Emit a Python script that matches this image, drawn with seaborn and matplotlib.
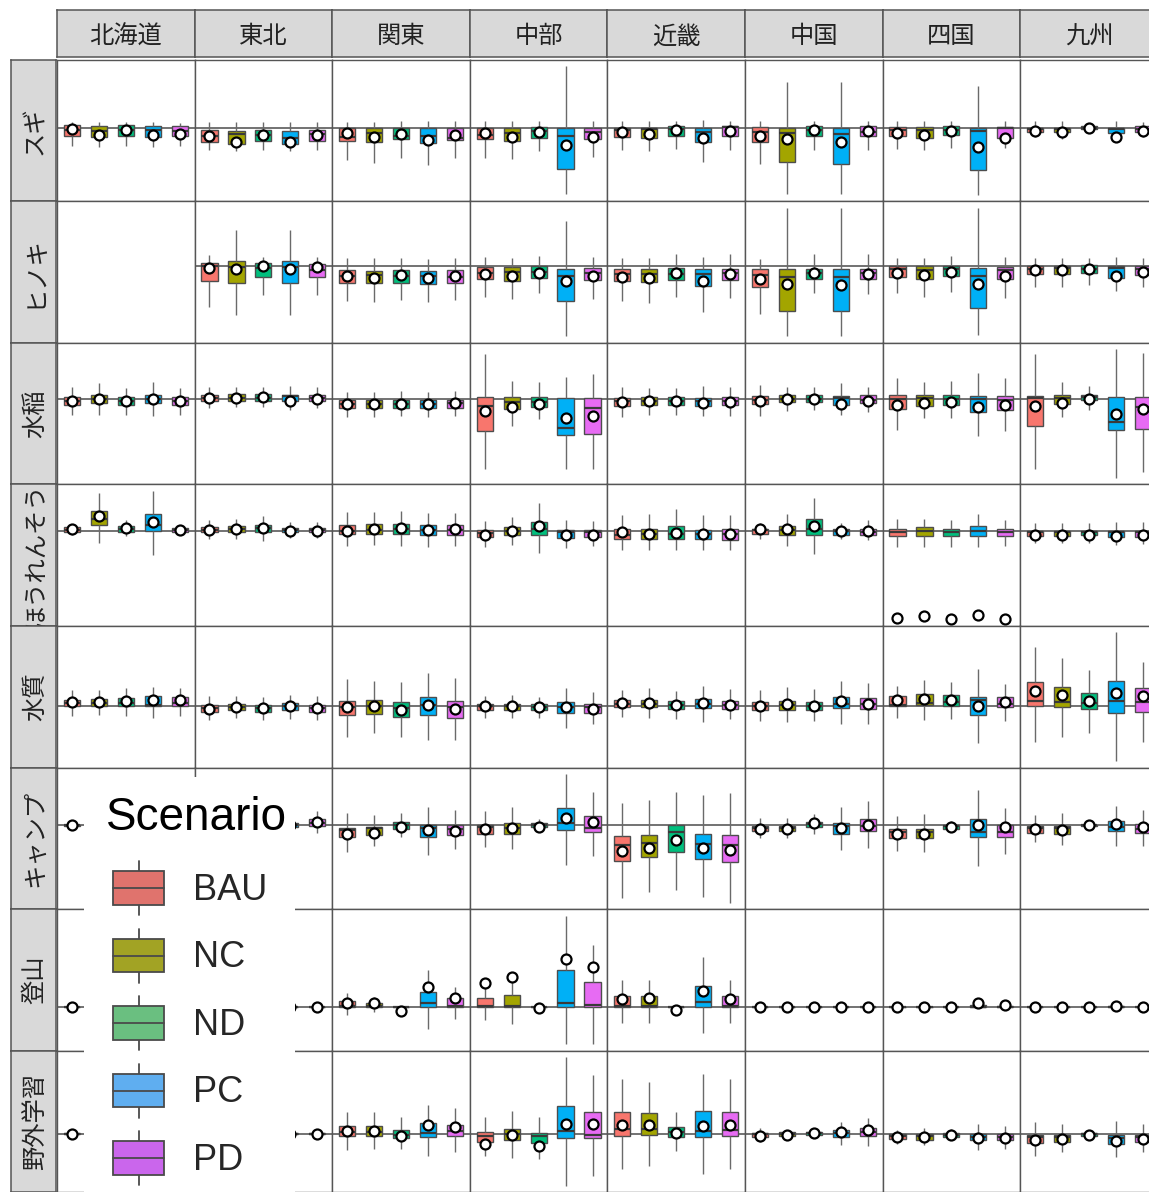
import matplotlib
matplotlib.use("Agg")
import numpy as np
import pandas as pd
import matplotlib.pyplot as plt
import seaborn as sns
from matplotlib.patches import Rectangle, Patch
from matplotlib.lines import Line2D
from matplotlib.legend_handler import HandlerBase
from matplotlib.font_manager import FontProperties

# ---------------- data ----------------
REGIONS = ["北海道", "東北", "関東", "中部", "近畿", "中国", "四国", "九州"]
INDICATORS = ["スギ", "ヒノキ", "水稲", "ほうれんそう", "水質", "キャンプ", "登山", "野外学習"]
SCENARIOS = ["BAU", "NC", "ND", "PC", "PD"]
BOX_COLORS = ["#F8766D", "#A3A500", "#00BF7D", "#00B0F6", "#E76BF3"]
KEY_COLORS = ["#E0736D", "#A2A324", "#6ABF80", "#5FAEF0", "#CA66EC"]

# per region: 5 scenarios x (lower whisker, Q1, median, Q3, upper whisker, mean)
SUGI = [
    [(-18.3, -8.3, -2, 2.7, 6, -1.6), (-19, -9, -3, 1.7, 6, -7.3), (-18.3, -8, -2, 2.4, 6, -2.3),
     (-19, -9.3, -2.6, 1.7, 6, -7.3), (-18.3, -8.3, -3, 1.7, 5, -6.6)],
    [(-22.3, -14, -8, -2.3, 6, -8.3), (-23, -16.3, -6.6, -3, 6, -14), (-22.3, -13.3, -7, -2.3, 6, -7.3),
     (-23, -16.3, -10.6, -3, 6, -14), (-22.3, -13.3, -6.6, -2.3, 6, -7.3)],
    [(-32.3, -13.3, -9.6, 0, 6, -5.6), (-35, -14.6, -5.6, 0, 6, -9.6), (-30, -11.6, -8, 0, 6.7, -6.6),
     (-38, -15.6, -8.3, 0, 6.7, -12.3), (-30, -12.3, -10, 0, 6.7, -7.3)],
    [(-30, -11.6, -7.3, 0, 6.7, -5.6), (-31.6, -13, -5.6, 0, 6.7, -9.6), (-23.3, -10.6, -3.5, 0.3, 6.7, -4),
     (-66.3, -41.3, -8, 0, 62, -17.3), (-29.6, -11.6, -4.3, 0, 6.7, -9)],
    [(-22.3, -9, -2, 0, 6.7, -4.6), (-23.3, -10, -1.6, 0, 6.7, -6.6), (-21.3, -8.3, -1, 1.7, 6.7, -2.3),
     (-34.6, -14, -4, 0, 7.7, -10.6), (-22.3, -8.3, 0.3, 1.7, 6.7, -3.3)],
    [(-36.6, -14, -4, 0.3, 6.7, -8), (-66.3, -34, -5.6, 0, 46, -11.6), (-22.3, -8.3, -2, 1.7, 6.7, -2.3),
     (-66.3, -36.6, -6.6, 0, 46, -14), (-22.3, -8.3, -4, 1.7, 6.7, -3.3)],
    [(-21.6, -8.3, -2, 0.3, 6.7, -5), (-22.3, -10, -2.3, 0.3, 6.7, -7.3), (-20.6, -7.3, -2, 1.7, 6.7, -3.3),
     (-67.3, -42.3, -3, 0, 41.7, -19), (-20.6, -10, 0, 1, 6.7, -10)],
    [(-9, -4, -1, 0, 6.7, -3), (-11.3, -4.6, -1, 0, 6.7, -4), (-5, -1.6, 0, 1.7, 5, -0.6),
     (-14, -5.6, -1.3, 0, 6.7, -9.6), (-9, -4, -1, 1.7, 6, -3.3)],
]

HINOKI = [
    None,
    [(-41.6, -15, 0, 3.4, 11.4, -2), (-49.3, -17, -1, 4.7, 36.4, -2.6), (-29.3, -11, -2, 3, 9, -0.3),
     (-49.3, -17, -1, 4.7, 36.4, -2.6), (-29.3, -11, -4.3, 2.4, 9, -1)],
    [(-35, -17.6, -10, -4.3, 8, -10.3), (-36, -17.6, -9.3, -5, 8, -12), (-34.3, -17, -10, -4.3, 8, -9.3),
     (-36, -18.3, -10.3, -5, 7.4, -12), (-34.3, -17, -11, -4.3, 8, -10.3)],
    [(-31.6, -13.6, -7, -1, 9, -8.6), (-33.6, -15, -6, -1, 8, -10), (-27.6, -12, -6, -0.3, 9.7, -7),
     (-70.3, -35, -10, -2.6, 45, -15.3), (-33.3, -14.3, -7.6, -1.6, 9, -10)],
    [(-35, -15.3, -8, -2.6, 8.4, -11), (-37.6, -16.6, -8.3, -2.6, 8.4, -12.6), (-31.6, -14.3, -8, -2, 11.7, -7.6),
     (-47, -20.3, -8.3, -2.6, 9, -15), (-32.6, -14.3, -7.6, -2.6, 11.7, -8.6)],
    [(-48.6, -21.6, -9.3, -2.6, 7.4, -13.6), (-71, -45, -11, -2.6, 59, -18.6), (-27.6, -13.3, -7, -2.6, 11.7, -7.6),
     (-71, -45, -11, -3.3, 59, -19.3), (-28.3, -13.3, -7.5, -2.6, 11.7, -8.3)],
    [(-27.6, -11.6, -2.6, -0.3, 8.4, -7), (-31.6, -13.6, -3.6, -0.3, 8.4, -9.3), (-26, -10.3, -3, 0, 9.7, -6),
     (-70, -42, -10.3, -2, 58.4, -18.6), (-32, -13.6, -3.6, -1, 9, -10.3)],
    [(-21, -8.3, -2.6, 0, 8.4, -3.6), (-21.6, -8.3, -2, 0, 8.4, -4.3), (-19.3, -7.6, -2.6, 0.7, 8, -3.3),
     (-25.3, -12, -2, 0, 9, -10), (-21, -9.3, -3, 0, 8.4, -6)],
]

SUITO = [
    [(-15.7, -5.7, -2, 2, 12.6, -1.4), (-15.7, -4, 0, 4.6, 17, 0.3), (-15.7, -5.7, -2, 2, 12, -2),
     (-16.4, -4, 0, 4.6, 17.6, 0.3), (-15.7, -5.7, -2, 2, 12, -2)],
    [(-8.7, -1.4, 1, 4.6, 12.6, 1), (-8, -1.4, 1.5, 5, 12.6, 1.6), (-8, -1.4, 1.5, 5.3, 12.6, 2),
     (-10.7, -1.4, 3, 4.6, 13.6, -2), (-8.7, -1.4, 1.5, 4.6, 12.6, 0.3)],
    [(-17.4, -8.7, -4.7, -0.7, 8, -4.7), (-17.4, -8.7, -4.4, -0.7, 8, -4.4), (-17, -8.4, -4.4, -0.7, 8.4, -4.4),
     (-17.4, -8.7, -4.7, -0.7, 8, -4.7), (-17, -8.4, -4, -0.7, 8.4, -4)],
    [(-69.7, -31.4, -6.4, 2, 46, -11.4), (-26.4, -9.7, -3, 2, 18.6, -8), (-19.7, -8, -3, 2.6, 17.6, -4.7),
     (-69.7, -35.7, -29, 1, 23, -19), (-69.7, -34.7, -8.7, 1.3, 25.3, -16.4)],
    [(-17.4, -6.4, -2, 1.3, 13, -2.4), (-15.4, -5.4, -1.4, 2, 12, -1.4), (-15.4, -5.4, -1.4, 2, 12, -1.4),
     (-16.4, -7, -1.4, 1.3, 13.6, -4), (-16.4, -5.7, -2, 2, 13, -2.4)],
    [(-16.7, -5, -1, 3.3, 15, -1.4), (-11.7, -2.7, 0.5, 4.3, 12.7, 0.7), (-11, -2.7, 0.5, 4, 12.7, 0.7),
     (-16, -6, 1.7, 3.3, 16.7, -5), (-12.3, -3.3, -0.5, 4, 12.7, -1.7)],
    [(-30.7, -10, 0, 4.3, 21.7, -5.7), (-19, -6.7, 1, 4.3, 17.7, -3.3), (-19, -6, 0.7, 4.3, 18.3, -2.3),
     (-36.7, -12.7, 0, 3.3, 26.7, -7.3), (-31.7, -10.7, -0.7, 3.3, 21.7, -6)],
    [(-70, -26.7, 1, 3.3, 46, -6.7), (-17.7, -5, 1, 4, 17.3, -4), (-11, -1, 2, 4.3, 13.3, 0),
     (-79, -30.7, -22.7, 2.3, 50.7, -14.3), (-73.3, -29.3, -8, 2.7, 47.3, -10)],
]

HORENSO = [
    [(-4, -1.3, 1, 3.3, 6, 1.7), (-13, 5.3, 12, 19.3, 37.7, 14.3), (-5.7, -1.3, 2, 4.3, 11, 2.7),
     (-25, -0.7, 5.3, 16.7, 40.3, 8.3), (-3, -1.3, 1, 2.3, 4, 1)],
    [(-9, -1.7, 1, 3.7, 11, 1), (-9, -1.3, 1.5, 4.3, 11.7, 2), (-10.7, -1.3, 2.5, 6, 14.3, 2.7),
     (-7.3, -1.7, 0.5, 2.7, 8.3, 0), (-7.3, -1.7, 0.5, 2.7, 8.3, 0)],
    [(-15.7, -3, 0, 6, 18.3, -0.7), (-15, -3, 1, 6.7, 18.3, 1.7), (-15.7, -3, 2, 7, 19.3, 2.7),
     (-16.3, -4, 0.5, 5.3, 17.7, 1), (-15.7, -4, 1, 5.3, 17.7, 1.7)],
    [(-16.3, -6.7, -2, 0.3, 9.3, -4), (-15, -4.7, 0, 3.7, 13.7, -0.7), (-23, -4, 2, 8.7, 27.7, 4.3),
     (-18, -7.3, -1, 0.3, 10.3, -4), (-15.7, -6.3, -1, 0.3, 9.3, -4)],
    [(-20, -8.3, -5, 1.7, 15.3, -1.7), (-19.7, -8.3, -3, 1.7, 17, -3), (-20, -8.3, -3, 5, 22, -2.3),
     (-19.7, -9, -3, 1, 15.3, -3.3), (-20, -9.7, -3.5, 1.7, 15.3, -3.3)],
    [(-9, -3, 0.5, 2, 7.7, 1.7), (-15.7, -4, 1, 5, 17, 2), (-23.3, -4, 2, 11.7, 32.7, 5),
     (-9, -4, -0.5, 1.7, 7.7, -0.7), (-10, -4, -1, 1.7, 10.3, -0.7)],
    [(-16.3, -5.7, -1.3, 2, 11.7, -89), (-16.3, -5.7, -0.7, 3.3, 11.7, -86.3), (-16.3, -5.7, -1.3, 2, 10.3, -89.7),
     (-16.3, -5.7, 0, 4.3, 17, -85.7), (-15.7, -5.7, -1.7, 1.7, 10.3, -90)],
    [(-12.3, -5.7, -1, 0, 7.7, -4), (-12.3, -5.7, -1, 0, 7.7, -4), (-12.3, -5, -1, 0, 7.7, -4),
     (-15, -6.7, -1.5, 0, 8.3, -5.7), (-13.3, -6.3, -1.5, 0, 8.3, -5)],
]

SUISHITSU = [
    [(-10, 0, 3, 6.7, 16, 4.4), (-9.3, 0, 3, 7.7, 16.7, 4.4), (-10, 0, 3, 8.4, 18.4, 5),
     (-11.6, 0, 1, 10, 20, 6.7), (-10, 0, 3, 9, 19, 6)],
    [(-14.3, -5.6, -2, 1.7, 10, -2.3), (-12.3, -4.3, -1, 2.7, 10, -1), (-14.3, -6, -2, 1.7, 9, -1.6),
     (-13.3, -4.3, 0, 3.4, 11.7, 0), (-14.3, -5.6, -1.5, 1.7, 10.7, -1.6)],
    [(-31, -9, -1, 5.7, 27.4, -0.6), (-27.3, -7.6, 0, 6, 25.7, 0.7), (-31.6, -11, -2, 4, 25, -3.3),
     (-34.3, -9, 1, 9.4, 34, 1.7), (-34.3, -11.6, -1, 5, 28.4, -2.6)],
    [(-12.3, -4.3, 0, 2.7, 10, 0), (-11.6, -4.3, 0, 2.7, 11.7, 0), (-12.3, -4.3, -0.5, 2.4, 9, -1),
     (-21.6, -6.6, -1, 4, 19, -1), (-18.3, -7.3, -1, 2.7, 14, -2.3)],
    [(-11, -0.6, 2.5, 6, 16, 3.4), (-12.3, -0.6, 2.5, 6.7, 18.4, 3.4), (-13.3, -2.3, 1.5, 5, 15.7, 1.7),
     (-15.6, -1.6, 2, 7.4, 20.7, 3.4), (-13.3, -2.3, 1.5, 5.7, 17.4, 1.7)],
    [(-15, -4, 0, 4.4, 16, 0.7), (-15.6, -3.3, 1, 5.7, 20, 2.4), (-14.6, -4, 0, 4.4, 17.4, 0.7),
     (-18.3, -1.6, 2.5, 9.4, 26, 5), (-18.3, -2.6, 2, 8.4, 23.4, 2.7)],
    [(-11.6, 0.7, 1.5, 10, 21, 6), (-14, 1, 3, 12.4, 26.7, 7.7), (-12.6, 0.7, 4, 11, 24.4, 6),
     (-37.3, -9.3, 6, 9.4, 37.4, 0.7), (-15, -1, 2, 9, 22.4, 4)],
    [(-36.6, 0, 5, 24.4, 60, 15.7), (-31.6, -1, 4.4, 19.4, 49, 11), (-27.3, -2.6, 3, 13.4, 36.7, 5.7),
     (-55.6, -6.6, 5.7, 26, 75, 13.4), (-36.6, -5.6, 4, 19, 45, 10.7)],
]

CAMP = [
    [(-1, -0.5, 0, 0.5, 1, 0), (-1, -0.5, 0, 0.5, 1, 0), (-1, -0.5, 0, 0.5, 1, 0),
     (-1, -0.5, 0, 0.5, 1, 0), (-1, -0.5, 0, 0.5, 1, 0)],
    [(-6, -1.5, 0, 1.5, 8, 0.5), (-6, -1.5, 0, 1.5, 8, 0.5), (-6, -1.5, 0, 1.5, 8, 0.5),
     (-6, -1.6, 0, 1.7, 8, 0.5), (-8.3, -1, 2, 5.7, 14, 3)],
    [(-27.6, -12.6, -5.3, -3.3, 12.4, -9.3), (-21.6, -10.3, -3.3, -1.6, 10, -7.6), (-12.6, -3.6, 0.5, 3.4, 11.7, -1.6),
     (-30.3, -12, -3.3, 0, 18.4, -5), (-24.3, -10, -4.3, 0, 15, -6)],
    [(-22, -8.6, -2, 0, 14, -4.3), (-24.3, -8.6, -2.6, 2.4, 18, -2.6), (-6, -2, 0, 1.7, 6.4, -2),
     (-40, -5.3, 2.4, 17.4, 51.7, 7.4), (-31.6, -7, -2.6, 9, 33, 3)],
    [(-73.6, -36, -20.3, -11.6, 22.4, -26), (-67.6, -32.6, -18.6, -10, 25, -23.6), (-66, -27, -6.6, -0.3, 33.4, -15),
     (-72.6, -34.3, -19.3, -8.6, 30, -23.3), (-78.6, -37, -20.3, -10, 32.4, -25)],
    [(-13.6, -6, -3, -1, 7.4, -3.6), (-13.6, -6, -3, -1, 7.4, -3.6), (-9.3, -2, 1, 3.4, 10.7, 1.7),
     (-25.3, -9.3, -1, 1.7, 18, -3.3), (-23.6, -6, -1, 6.4, 24, 0)],
    [(-26.6, -13.6, -7, -3.6, 9, -8.6), (-27.6, -13.6, -7, -3.6, 10.7, -8.6), (-7, -3.6, -1, 0, 4, -1.6),
     (-41, -12.6, -6.6, 6.4, 35, 0), (-29.3, -12, -6.6, 0, 17.4, -2)],
    [(-17.6, -7.6, -3.5, -1, 10, -4.3), (-20.3, -8.6, -3.5, -1, 11.7, -5.3), (-1, -0.7, 0, 0.3, 1, -0.3),
     (-21, -6, -2.5, 4, 19.7, 0.7), (-21, -7.6, -4, 1.4, 15.7, -1.6)],
]

TOZAN = [
    [(-0.5, -0.2, 0, 0.2, 0.5, 0), (-0.5, -0.2, 0, 0.2, 0.5, 0), (-0.5, -0.2, 0, 0.2, 0.5, 0),
     (-0.5, -0.2, 0, 0.2, 0.5, 0), (-0.5, -0.2, 0, 0.2, 0.5, 0)],
    [(-0.5, -0.2, 0, 0.2, 0.5, 0), (-0.5, -0.2, 0, 0.2, 0.5, 0), (-0.5, -0.2, 0, 0.2, 0.5, 0),
     (-0.5, -0.2, 0, 0.2, 0.5, 0), (-0.5, -0.2, 0, 0.2, 0.5, -0.3)],
    [(-8.6, 0.3, 0.5, 6, 14.4, 4.4), (-5.3, 0.3, 0.5, 3.7, 10.4, 3.7), (-1, -0.5, 0, 0.3, 0.5, -4),
     (-22, 0.3, 3.7, 15.4, 37.7, 20.4), (-12, 0.3, 1, 8.7, 20.4, 9.4)],
    [(-13, 0.3, 1, 9.4, 20, 24.4), (-17.3, 0.3, 1, 12, 25, 30.4), (-0.5, -0.3, 0, 0.3, 0.5, -1.3),
     (-38, 0.3, 3.7, 38, 93, 48.7), (-37.3, 0.3, 2, 25.4, 62.7, 41)],
    [(-16.3, 0.3, 1, 11, 27, 8), (-16.3, 0.3, 1, 11, 27, 9.4), (-0.5, -0.3, 0, 0.3, 0.5, -3),
     (-27, 0.3, 4.7, 21, 50.4, 16), (-16.3, 0.3, 1, 11, 27, 8)],
    [(-0.5, -0.2, 0, 0.2, 0.5, 0), (-0.5, -0.2, 0, 0.2, 0.5, 0), (-0.5, -0.2, 0, 0.2, 0.5, 0),
     (-0.5, -0.2, 0, 0.2, 0.5, 0), (-0.5, -0.2, 0, 0.2, 0.5, 0)],
    [(-0.5, -0.2, 0, 0.2, 0.5, 0), (-0.5, -0.2, 0, 0.2, 0.5, 0), (-0.5, -0.2, 0, 0.2, 0.5, 0),
     (-0.5, 0, 0.3, 2, 2.5, 4.4), (-0.5, 0, 0.2, 1, 1.5, 2)],
    [(-0.5, -0.2, 0, 0.2, 0.5, 0), (-0.5, -0.2, 0, 0.2, 0.5, 0), (-0.5, -0.2, 0, 0.2, 0.5, 0),
     (-0.5, 0, 0.2, 1, 1.5, 1.4), (-0.5, -0.2, 0, 0.2, 0.5, 0)],
]

YAGAI = [
    [(-0.5, -0.2, 0, 0.2, 0.5, 0), (-0.5, -0.2, 0, 0.2, 0.5, 0), (-0.5, -0.2, 0, 0.2, 0.5, 0),
     (-0.5, -0.2, 0, 0.2, 0.5, 0), (-0.5, -0.2, 0, 0.2, 0.5, 0)],
    [(-0.5, -0.2, 0, 0.2, 0.5, 0), (-0.5, -0.2, 0, 0.2, 0.5, 0), (-0.5, -0.2, 0, 0.2, 0.5, 0),
     (-0.5, -0.2, 0, 0.2, 0.5, 0), (-0.5, -0.2, 0, 0.2, 0.5, 0)],
    [(-16.3, -2.6, 2, 7.4, 21.4, 3), (-15.3, -2, 2, 8, 21.4, 2.4), (-16, -4.6, -1, 4, 16.4, -2),
     (-22.6, -3, 0.4, 10.4, 29, 8.7), (-18.6, -2, 3, 9, 25.4, 6.4)],
    [(-23, -8.6, -2, 1.4, 16.4, -10.3), (-24.3, -7, -0.5, 4.7, 22.4, -1), (-25.3, -9.6, -2, 0.7, 16.4, -13),
     (-53, -4.3, 2.4, 28, 77.4, 9.7), (-42.6, -4.6, -1, 21.4, 59, 9.7)],
    [(-36.3, -2, 4.7, 21.4, 55.7, 8.7), (-33, -1.3, 4.7, 20.4, 52.4, 9), (-17.6, -3, 2, 7, 21.4, 0.7),
     (-41, -3, 3, 22.4, 60.7, 8), (-36.3, -2, 4, 21.4, 55.7, 8.7)],
    [(-8.6, -3, -0.5, 0.7, 5.4, -2), (-4, -2, 0, 1.4, 3, -1), (-3, -1.3, 0.5, 2, 3, 0.4),
     (-12, -3, 0.5, 4, 11.4, 1.4), (-13, -2, 2, 5.7, 15.7, 4)],
    [(-10.3, -6, -2, -0.3, 4, -3.6), (-12, -7, -2.5, -0.3, 5.4, -3.6), (-7, -3, -1, 0.7, 5, -1.3),
     (-17, -7, -3.5, -0.3, 9.7, -4.3), (-15.3, -6.3, -3.5, -0.3, 7.4, -4.3)],
    [(-22.6, -9.6, -3.5, -1, 12, -7), (-18.6, -8.6, -3.5, -1, 9.7, -6), (-6, -2, -0.5, 0.7, 4, -1.6),
     (-23.6, -11, -5, -1, 13, -7.6), (-18.6, -8.6, -3.5, -1, 9.7, -6)],
]

ROW_DATA = [SUGI, HINOKI, SUITO, HORENSO, SUISHITSU, CAMP, TOZAN, YAGAI]

# ---------------- tidy frames ----------------
box_rec, mean_rec = [], []
for ind, rows in zip(INDICATORS, ROW_DATA):
    for reg, stats in zip(REGIONS, rows):
        if stats is None:
            continue
        for sc, s in zip(SCENARIOS, stats):
            lo, q1, md, q3, hi, mn = s
            for v in (lo, q1, md, q3, hi):
                box_rec.append((ind, reg, sc, v))
            mean_rec.append((ind, reg, sc, mn))
box_df = pd.DataFrame(box_rec, columns=["indicator", "region", "Scenario", "value"])
mean_df = pd.DataFrame(mean_rec, columns=["indicator", "region", "Scenario", "mean"])

ylims = {}
for ind in INDICATORS:
    vals = np.concatenate([box_df.loc[box_df.indicator == ind, "value"].values,
                           mean_df.loc[mean_df.indicator == ind, "mean"].values])
    lo, hi = vals.min(), vals.max()
    pad = 0.05 * (hi - lo)
    ylims[ind] = (lo - pad, hi + pad)

# ---------------- style ----------------
sns.set_theme(style="white")
plt.rcParams["font.family"] = ["Noto Sans CJK JP", "DejaVu Sans"]

W, H = 1149, 1192
fig = plt.figure(figsize=(W / 100, H / 100), dpi=100)
fig.patch.set_facecolor("white")

COL0, COLW = 57.0, 137.6
ROW0, ROWH = 59.5, 141.6
EDGE = "#555555"
palette = dict(zip(SCENARIOS, BOX_COLORS))


def fig_rect(x, y, w, h):
    return [x / W, 1 - (y + h) / H, w / W, h / H]


def style_frame(ax, lw=1.0):
    ax.set_xticks([])
    ax.set_yticks([])
    ax.set_xlabel("")
    ax.set_ylabel("")
    for sp in ax.spines.values():
        sp.set_visible(True)
        sp.set_color(EDGE)
        sp.set_linewidth(lw)


for i, ind in enumerate(INDICATORS):
    for j, reg in enumerate(REGIONS):
        ax = fig.add_axes(fig_rect(COL0 + j * COLW, ROW0 + i * ROWH, COLW, ROWH))
        ax.set_facecolor("white")
        sub = box_df[(box_df.indicator == ind) & (box_df.region == reg)]
        msub = mean_df[(mean_df.indicator == ind) & (mean_df.region == reg)]
        if len(sub):
            ax.axhline(0, color="#5a5a5a", lw=1.2, zorder=1.5)
            sns.boxplot(data=sub, x="Scenario", y="value", hue="Scenario",
                        order=SCENARIOS, hue_order=SCENARIOS, palette=palette,
                        whis=(0, 100), width=0.6, saturation=1, showfliers=False,
                        linewidth=1.0, linecolor="#4d4d4d", legend=False, ax=ax,
                        medianprops=dict(color="#3a3a3a", linewidth=1.6),
                        whiskerprops=dict(color="#6a6a6a", linewidth=1.0),
                        capprops=dict(linewidth=0))
            sns.stripplot(data=msub, x="Scenario", y="mean", order=SCENARIOS,
                          jitter=False, color="white", edgecolor="black",
                          linewidth=1.6, size=7.2, zorder=6, ax=ax)
        ax.set_xlim(-0.55, 4.55)
        ax.set_ylim(*ylims[ind])
        style_frame(ax)

# top strips
for j, reg in enumerate(REGIONS):
    sax = fig.add_axes(fig_rect(COL0 + j * COLW, 10, COLW, 47))
    sax.set_facecolor("#D9D9D9")
    style_frame(sax, 1.1)
    sax.text(0.5, 0.44, reg, ha="center", va="center", fontsize=17.5,
             color="#222222", transform=sax.transAxes)

# left strips
for i, ind in enumerate(INDICATORS):
    sax = fig.add_axes(fig_rect(11, ROW0 + i * ROWH, 45, ROWH))
    sax.set_facecolor("#D9D9D9")
    style_frame(sax, 1.1)
    sax.text(0.53, 0.5, ind, ha="center", va="center", rotation=90, fontsize=17.5,
             color="#222222", transform=sax.transAxes)


# ---------------- legend ----------------
class BoxKeyHandler(HandlerBase):
    def create_artists(self, legend, orig_handle, xdescent, ydescent, width, height,
                       fontsize, trans):
        fc = orig_handle.get_facecolor()
        bw = width * 0.81
        bh = height * 0.62
        x0 = -xdescent + (width - bw) / 2
        y0 = -ydescent + (height - bh) / 2
        xc = x0 + bw / 2
        ec = "#4a4a4a"
        w1 = Line2D([xc, xc], [-ydescent, y0], color=ec, lw=1.3, transform=trans)
        w2 = Line2D([xc, xc], [y0 + bh, -ydescent + height], color=ec, lw=1.3, transform=trans)
        rect = Rectangle((x0, y0), bw, bh, facecolor=fc, edgecolor=ec, lw=1.3, transform=trans)
        med = Line2D([x0, x0 + bw], [y0 + bh / 2] * 2, color=ec, lw=1.3, transform=trans)
        return [w1, w2, rect, med]


bg = Rectangle((84 / W, 0), (295 - 84) / W, (H - 777) / H, transform=fig.transFigure,
               facecolor="white", edgecolor="none", zorder=4)
fig.add_artist(bg)

fig.text(106 / W, 1 - 830 / H, "Scenario", ha="left", va="baseline",
         fontproperties=FontProperties(family="Liberation Sans", size=33),
         color="black", zorder=6)

handles = [Patch(facecolor=c) for c in KEY_COLORS]
fig.legend(handles, SCENARIOS, loc="upper left",
           bbox_to_anchor=(107 / W, 1 - 861 / H), frameon=False, borderpad=0,
           borderaxespad=0, alignment="left",
           prop=FontProperties(family="Liberation Sans", size=26),
           handlelength=1.745, handleheight=1.925, handletextpad=0.64,
           labelspacing=0.374, handler_map={Patch: BoxKeyHandler()})

fig.savefig("out.png", dpi=100, facecolor="white")
